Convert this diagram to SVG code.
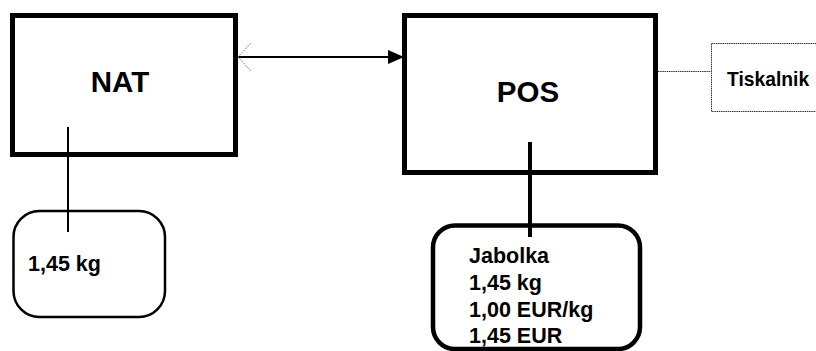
<svg xmlns="http://www.w3.org/2000/svg" width="816" height="351" viewBox="0 0 816 351">
<defs>
<style>
.t{font-family:"Liberation Sans",Arial,sans-serif;font-weight:bold;fill:#000}
.big{font-size:29.5px}
.mid{font-size:21.5px}
.box{fill:none;stroke:#000}
.dot{fill:none;stroke:#333;stroke-width:1;stroke-dasharray:1.5,0.7}
</style>
<marker id="ah" viewBox="0 0 16 14" refX="16" refY="7" markerWidth="16" markerHeight="14" markerUnits="userSpaceOnUse" orient="auto">
<path d="M0,0 L16,7 L0,14 Z" fill="#000"/>
</marker>
</defs>
<rect width="816" height="351" fill="#fff"/>
<g id="connectors">
<line x1="238" y1="57" x2="404" y2="57" stroke="#000" stroke-width="2" marker-end="url(#ah)"/>
<path d="M251,43 L238,57 L251,71" fill="none" stroke="#888" stroke-width="1" stroke-dasharray="2,1"/>
<line x1="68" y1="127" x2="68" y2="232" stroke="#000" stroke-width="2"/>
<line x1="530" y1="142" x2="530" y2="237" stroke="#000" stroke-width="4"/>
<line class="dot" x1="658" y1="71.5" x2="711" y2="71.5"/>
</g>
<g id="nat">
<rect class="box" x="12.5" y="15.5" width="223" height="139" stroke-width="5"/>
<text class="t big" x="120" y="92" text-anchor="middle">NAT</text>
</g>
<g id="pos">
<rect class="box" x="404.5" y="15.5" width="251" height="157" stroke-width="5"/>
<text class="t big" x="528" y="102" text-anchor="middle">POS</text>
</g>
<g id="tiskalnik">
<rect class="dot" x="711.5" y="43.5" width="120" height="68"/>
<text class="t" x="727" y="86" font-size="19.3">Tiskalnik</text>
</g>
<g id="weight">
<rect class="box" x="13.5" y="211" width="151.5" height="106" rx="26" ry="26" stroke-width="2.5"/>
<text class="t mid" x="28" y="271">1,45 kg</text>
</g>
<g id="receipt">
<rect class="box" x="433" y="225.5" width="207" height="123.5" rx="22" ry="22" stroke-width="4.5"/>
<text class="t mid" x="469" y="263">Jabolka</text>
<text class="t mid" x="469" y="290">1,45 kg</text>
<text class="t mid" x="469" y="317">1,00 EUR/kg</text>
<text class="t mid" x="469" y="343">1,45 EUR</text>
</g>
</svg>
